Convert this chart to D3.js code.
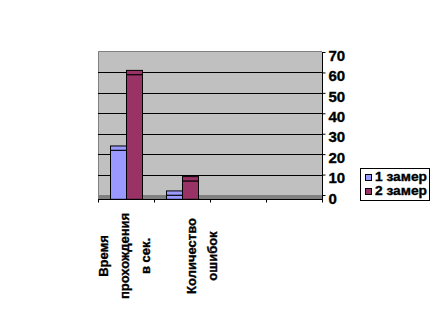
<!DOCTYPE html>
<html>
<head>
<meta charset="utf-8">
<script src="https://cdn.jsdelivr.net/npm/d3@7"></script>
<style>
  body { margin: 0; background: #fff; }
  text { font-family: "Liberation Sans", Arial, sans-serif; font-weight: bold; stroke: #000; stroke-width: 0.35px; }
</style>
</head>
<body>
<div id="chart"></div>
<script>
// categories (line breaks as in the source labels), 4 slots on the axis
const categories = ['c1', 'c2', 'c3', 'c4'];
const categoryLines = [
    ['Время', 'прохождения', 'в сек.'],
    ['', '', 'Количество', 'ошибок'],
    [],
    []
];
const series = ['1 замер', '2 замер'];
const zamer1 = [24, 2, null, null];
const zamer2 = [61, 9, null, null];
const yTicks = [0, 10, 20, 30, 40, 50, 60, 70];

const colors = ['#9999FF', '#993366'];

const width = 436;
const height = 312;
const plot = { left: 98, right: 322, top: 51, bottom: 195 };
const depth = 4.3;

const svg = d3.select('#chart')
    .append('svg')
    .attr('width', width)
    .attr('height', height);

const x0 = d3.scaleBand()
    .domain(categories)
    .range([plot.left, plot.right]);

const x1 = d3.scaleBand()
    .domain(series)
    .range([0, x0.bandwidth()])
    .paddingOuter(0.75);

const y = d3.scaleLinear()
    .domain([0, 70])
    .range([plot.bottom, plot.top + 1]);

// back wall
svg.append('rect')
    .attr('x', plot.left)
    .attr('y', plot.top)
    .attr('width', plot.right - plot.left)
    .attr('height', plot.bottom - plot.top)
    .attr('fill', '#C0C0C0');

// floor
svg.append('rect')
    .attr('x', plot.left)
    .attr('y', y(0))
    .attr('width', plot.right - plot.left)
    .attr('height', depth)
    .attr('fill', '#808080');

// wall border (top, left)
svg.append('path')
    .attr('d', `M${plot.left + 0.5},${y(0) + depth}V${plot.top + 0.5}H${plot.right}`)
    .attr('fill', 'none')
    .attr('stroke', '#808080');

// gridlines
svg.append('g')
    .selectAll('line')
    .data(yTicks.filter(d => d > 0 && d < 70))
    .join('line')
    .attr('x1', plot.left)
    .attr('x2', plot.right)
    .attr('y1', d => Math.round(y(d)) + 0.5)
    .attr('y2', d => Math.round(y(d)) + 0.5)
    .attr('stroke', '#000');

// bars with a small top face
const rows = categories.map((c, i) => ({ cat: c, vals: [zamer1[i], zamer2[i]] }));
const bars = svg.append('g')
    .selectAll('g')
    .data(rows)
    .join('g')
    .attr('transform', d => `translate(${x0(d.cat)},0)`)
    .selectAll('g')
    .data(d => d.vals.map((v, j) => ({ s: series[j], v, j })).filter(d => d.v != null))
    .join('g');

bars.append('rect')
    .attr('x', d => x1(d.s) + 0.5)
    .attr('y', d => y(d.v) + depth)
    .attr('width', x1.bandwidth())
    .attr('height', d => y(0) - y(d.v))
    .attr('fill', d => colors[d.j])
    .attr('stroke', '#000');

bars.append('rect')
    .attr('x', d => x1(d.s) + 0.5)
    .attr('y', d => y(d.v))
    .attr('width', x1.bandwidth())
    .attr('height', depth)
    .attr('fill', d => colors[d.j])
    .attr('stroke', '#000');

// right value axis
const yAxis = svg.append('g')
    .attr('transform', `translate(${plot.right + 0.5},0)`)
    .call(d3.axisRight(y).tickValues(yTicks).tickSize(3).tickPadding(3));
yAxis.select('.domain')
    .attr('d', `M0,${y(70)}V${y(0) + depth}`);
yAxis.selectAll('text')
    .attr('font-size', 15)
    .attr('font-family', '"Liberation Sans", Arial, sans-serif')
    .attr('dy', '0.55em')
    .attr('fill', '#000');

// bottom category axis
const xAxis = svg.append('g')
    .attr('transform', `translate(0,${Math.round(y(0) + depth) + 0.5})`);
xAxis.append('line')
    .attr('x1', plot.left)
    .attr('x2', plot.right + 1)
    .attr('stroke', '#000');
xAxis.selectAll('.tick')
    .data(categories.map(c => x0(c)).concat([plot.right]))
    .join('line')
    .attr('class', 'tick')
    .attr('x1', d => Math.round(d) + 0.5)
    .attr('x2', d => Math.round(d) + 0.5)
    .attr('y2', 3)
    .attr('stroke', '#000');

const lineH = 21;
const labels = svg.append('g');
categories.forEach((c, i) => {
    const lines = categoryLines[i];
    const n = lines.length;
    lines.forEach((t, k) => {
        if (!t) return;
        const bx = x0(c) + x0.bandwidth() / 2 + (k - (n - 1) / 2) * lineH + 3;
        labels.append('text')
            .attr('transform', `translate(${bx},256) rotate(-90)`)
            .attr('text-anchor', 'middle')
            .attr('font-size', 13)
            .text(t);
    });
});

// legend
const legend = svg.append('g');
legend.append('rect')
    .attr('x', 360.5)
    .attr('y', 168.5)
    .attr('width', 69)
    .attr('height', 32)
    .attr('fill', '#fff')
    .attr('stroke', '#000');
series.forEach((s, j) => {
    legend.append('rect')
        .attr('x', 365.5)
        .attr('y', 174.5 + j * 14)
        .attr('width', 6)
        .attr('height', 6)
        .attr('fill', colors[j])
        .attr('stroke', '#000');
    legend.append('text')
        .attr('x', 375)
        .attr('y', 181 + j * 14)
        .attr('font-size', 12)
        .attr('textLength', 52)
        .attr('lengthAdjust', 'spacingAndGlyphs')
        .text(s);
});
</script>
</body>
</html>
